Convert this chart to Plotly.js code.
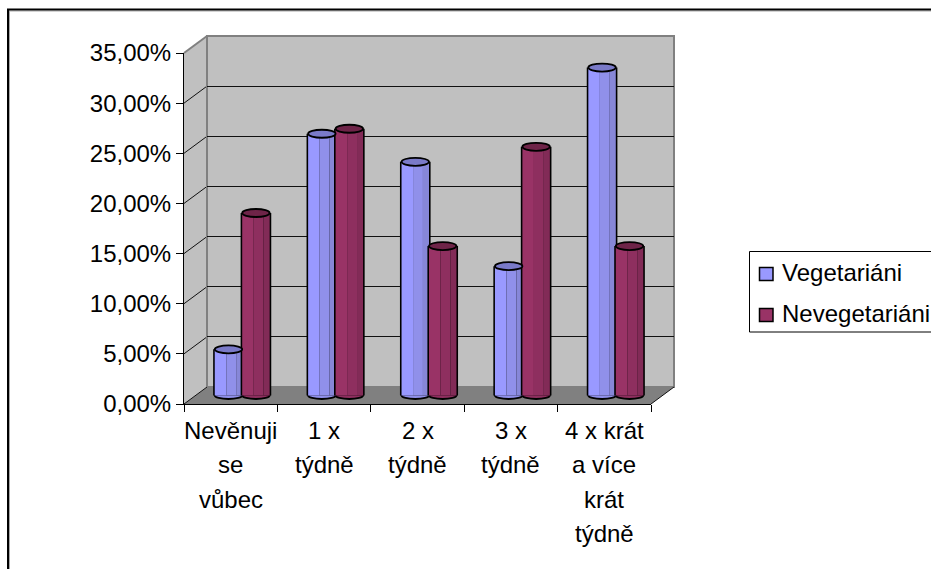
<!DOCTYPE html>
<html>
<head>
<meta charset="utf-8">
<script src="https://cdn.plot.ly/plotly-3.0.1.min.js"></script>
<style>html,body{margin:0;padding:0;background:#fff;overflow:hidden}</style>
</head>
<body>
<div id="chart" style="width:931px;height:569px"></div>
<script>
// Survey results: how often vegetarians and non-vegetarians engage in the activity.
const categories = ["Nevěnuji se vůbec", "1 x týdně", "2 x týdně", "3 x týdně", "4 x krát a více krát týdně"];
const categoryLines = [["Nevěnuji", "se", "vůbec"], ["1 x", "týdně"], ["2 x", "týdně"], ["3 x", "týdně"], ["4 x krát", "a více", "krát", "týdně"]];
const vegetariani = [4.6, 26.1, 23.3, 12.9, 32.7];
const nevegetariani = [18.2, 26.6, 14.9, 24.8, 14.9];
const yTicks = [0, 5, 10, 15, 20, 25, 30, 35];
const yTickText = ["0,00%", "5,00%", "10,00%", "15,00%", "20,00%", "25,00%", "30,00%", "35,00%"];

const W = 931, H = 569;
const px = x => x / W;
const py = y => 1 - y / H;
const FONT = "Liberation Sans, Arial, sans-serif";
const FONT_SIZE = 24;

// Depth of the pseudo-3D box: front plane, bar plane and back wall.
const front = {l: 184, r: 651, t: 53, b: 404};
const back = {l: 207, r: 674, t: 36, b: 387};
const barPlane = {l: 195.5, r: 662.5, zero: 395.5};
const pxPerUnit = (front.b - front.t) / 35;
const barYRange = [-1, 36];

const BAR_W = 0.294;
const EDGE = 0.017;
const series = [
  {name: "Vegetariáni", values: vegetariani, start: -BAR_W,
   strips: ["#9999ff", "#9090ea", "#8787d8"], top: "#7a7ac8"},
  {name: "Nevegetariáni", values: nevegetariani, start: 0,
   strips: ["#993366", "#8e2f5f", "#822b57"], top: "#6e2448"}
];
const stripStops = [0, 0.42, 0.78, 1];

const traces = [];
// Empty traces that bring the front and back axes into the figure.
traces.push({type: "scatter", mode: "none", x: categories, y: vegetariani, xaxis: "x", yaxis: "y", hoverinfo: "skip", showlegend: false});
traces.push({type: "scatter", mode: "none", x: categories, y: vegetariani, xaxis: "x2", yaxis: "y2", hoverinfo: "skip", showlegend: false});

const shapes = [];
const annotations = [];

// Side wall, floor and back wall of the box.
const poly = (pts, fill, line, width) => ({
  type: "path", xref: "paper", yref: "paper", layer: "below",
  path: "M" + pts.map(p => px(p[0]) + "," + py(p[1])).join("L") + "Z",
  fillcolor: fill, line: {color: line, width: width}
});
shapes.push(poly([[front.l, front.b], [back.l, back.b], [back.l, back.t], [front.l, front.t]], "#c0c0c0", "#c0c0c0", 0));
shapes.push(poly([[back.l, back.t], [back.r, back.t], [back.r, back.b], [back.l, back.b]], "#c0c0c0", "#808080", 2));
shapes.push(poly([[front.l, front.b], [back.l, back.b], [back.r, back.b], [front.r, front.b]], "#808080", "#808080", 0));

const seg = (x0, y0, x1, y1, color, width, layer) => ({
  type: "line", xref: "paper", yref: "paper", layer: layer || "below",
  x0: px(x0), y0: py(y0), x1: px(x1), y1: py(y1), line: {color: color, width: width}
});
// Gridlines carried across the side wall.
yTicks.forEach((t, i) => {
  const y = front.b - t * pxPerUnit;
  const top = i === yTicks.length - 1;
  shapes.push(seg(front.l, y, back.l, y - (front.b - back.b), top ? "#808080" : "#111111", top ? 2 : 1));
});
shapes.push(seg(back.l, back.b, back.l, back.t, "#808080", 2));
shapes.push(seg(front.r, front.b, back.r, back.b, "#111111", 1));

// Each cylinder: a dark core for its outline, shaded strips, a base and a top ellipse.
series.forEach(s => {
  traces.push({
    type: "bar", x: categories, y: s.values, xaxis: "x3", yaxis: "y3",
    width: BAR_W + 2 * EDGE, offset: s.start - EDGE,
    marker: {color: "#000000", line: {width: 0}}, hoverinfo: "skip", showlegend: false
  });
  s.strips.forEach((c, k) => {
    traces.push({
      type: "bar", name: s.name, x: categories, y: s.values, xaxis: "x3", yaxis: "y3",
      width: BAR_W * (stripStops[k + 1] - stripStops[k]),
      offset: s.start + BAR_W * stripStops[k],
      marker: {color: c, line: {width: 0}}, showlegend: false
    });
  });
  s.values.forEach((v, i) => {
    shapes.push({
      type: "circle", layer: "below", xref: "x3", yref: "y3", xsizemode: "scaled", ysizemode: "pixel",
      x0: i + s.start, x1: i + s.start + BAR_W, yanchor: 0, y0: -3.5, y1: 3.5,
      fillcolor: s.strips[1], line: {color: "#000000", width: 1.8}
    });
    shapes.push({
      type: "circle", layer: "above", xref: "x3", yref: "y3", xsizemode: "scaled", ysizemode: "pixel",
      x0: i + s.start, x1: i + s.start + BAR_W, yanchor: v, y0: -4, y1: 4,
      fillcolor: s.top, line: {color: "#000000", width: 1.8}
    });
  });
});

// Category labels, one annotation per line to keep the wide line spacing.
const lineY = [430, 464, 499, 533];
categoryLines.forEach((lines, i) => {
  lines.forEach((text, k) => {
    annotations.push({
      text: text, xref: "x", yref: "paper", x: i, y: py(lineY[k]),
      xanchor: "center", yanchor: "middle", showarrow: false,
      font: {family: FONT, size: FONT_SIZE, color: "#000000"}
    });
  });
});

// Legend panel.
const legendBox = {l: 749.5, r: 960, t: 251.5, b: 332};
shapes.push({type: "rect", xref: "paper", yref: "paper", layer: "above",
  x0: px(legendBox.l), x1: px(legendBox.r), y0: py(legendBox.t), y1: py(legendBox.b),
  fillcolor: "#ffffff", line: {color: "#000000", width: 1}});
[274, 315].forEach((y, i) => {
  const s = series[i];
  shapes.push({type: "rect", xref: "paper", yref: "paper", layer: "above",
    x0: px(759.5), x1: px(773), y0: py(y - 6.5), y1: py(y + 6.5),
    fillcolor: s.strips[0], line: {color: "#000000", width: 1.5}});
  annotations.push({
    text: s.name, xref: "paper", yref: "paper", x: px(780), y: py(y - 2),
    xanchor: "left", yanchor: "middle", showarrow: false,
    font: {family: FONT, size: FONT_SIZE, color: "#000000"}
  });
});

// Outer chart frame with its soft inner edge.
shapes.push(seg(9, 11, 960, 11, "#a8a8a8", 1, "above"));
shapes.push(seg(9.5, 10, 9.5, 600, "#a8a8a8", 1, "above"));
shapes.push(seg(7, 9.5, 960, 9.5, "#000000", 2, "above"));
shapes.push(seg(8, 9, 8, 600, "#000000", 2, "above"));

const layout = {
  width: W, height: H, autosize: false,
  margin: {l: 0, r: 0, t: 0, b: 0, pad: 0, autoexpand: false},
  paper_bgcolor: "#ffffff", plot_bgcolor: "rgba(0,0,0,0)",
  barmode: "overlay", showlegend: false,
  font: {family: FONT, size: FONT_SIZE, color: "#000000"},
  xaxis: {
    type: "category", domain: [px(front.l), px(front.r)], range: [-0.5, 4.5], anchor: "y",
    tickson: "boundaries", ticks: "outside", ticklen: 7, tickwidth: 1, tickcolor: "#000000",
    showticklabels: false, showgrid: false, zeroline: false,
    showline: true, linecolor: "#000000", linewidth: 1
  },
  yaxis: {
    domain: [py(front.b), py(front.t)], range: [0, 35], anchor: "x",
    tickmode: "array", tickvals: yTicks, ticktext: yTickText,
    ticks: "outside", ticklen: 7, tickwidth: 1, tickcolor: "#000000",
    tickfont: {family: FONT, size: FONT_SIZE, color: "#000000"},
    showgrid: false, zeroline: false, showline: true, linecolor: "#000000", linewidth: 1
  },
  xaxis2: {
    type: "category", domain: [px(back.l), px(back.r)], range: [-0.5, 4.5], anchor: "y2",
    visible: false, showgrid: false
  },
  yaxis2: {
    domain: [py(back.b), py(back.t)], range: [0, 35], anchor: "x2",
    tickmode: "array", tickvals: yTicks.slice(1, -1), showticklabels: false, ticks: "",
    showgrid: true, gridcolor: "#111111", gridwidth: 1, zeroline: false, showline: false
  },
  xaxis3: {
    type: "category", domain: [px(barPlane.l), px(barPlane.r)], range: [-0.5, 4.5], anchor: "y3",
    visible: false, showgrid: false
  },
  yaxis3: {
    domain: [py(barPlane.zero - barYRange[0] * pxPerUnit), py(barPlane.zero - barYRange[1] * pxPerUnit)],
    range: barYRange, anchor: "x3", visible: false, showgrid: false, zeroline: false
  },
  shapes: shapes,
  annotations: annotations
};

Plotly.newPlot("chart", traces, layout, {displayModeBar: false, staticPlot: true});
</script>
</body>
</html>
